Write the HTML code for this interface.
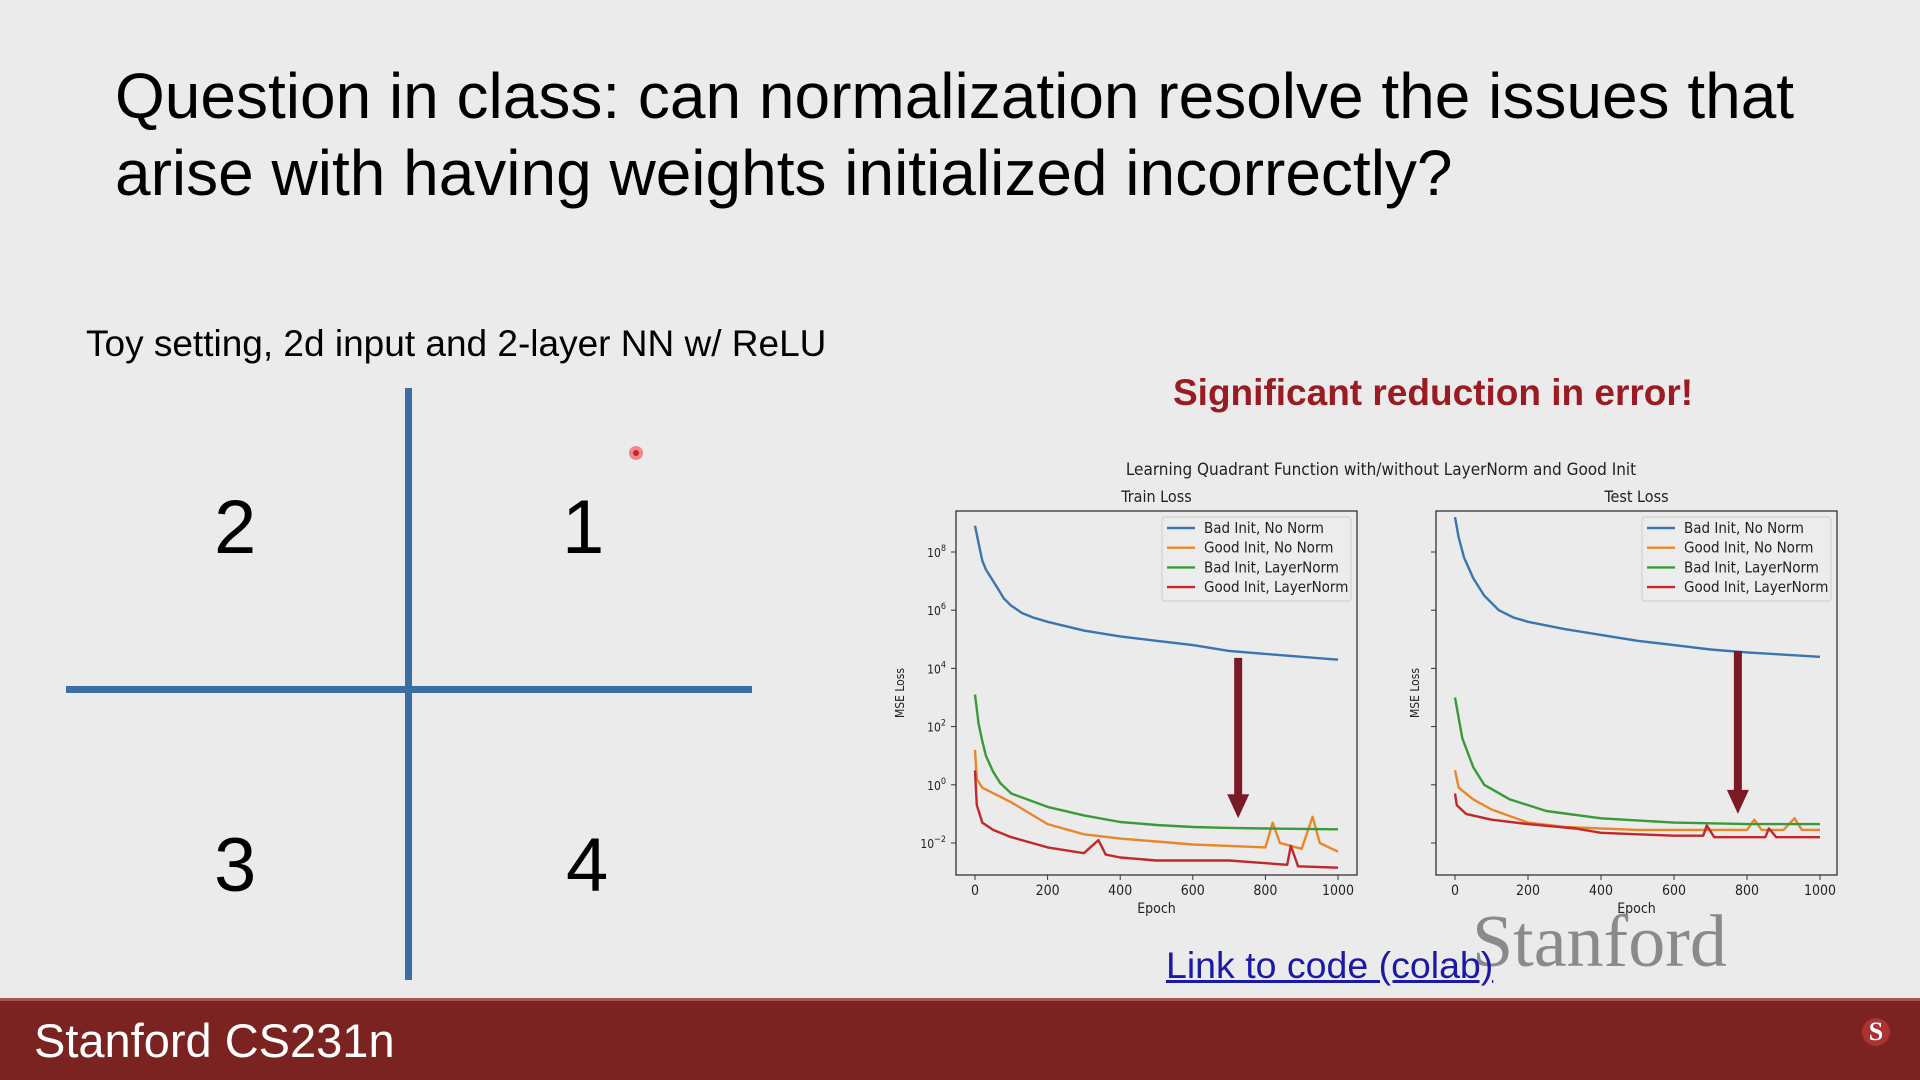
<!DOCTYPE html>
<html><head><meta charset="utf-8"><style>
html,body{margin:0;padding:0;}
body{width:1920px;height:1080px;background:#ebebeb;position:relative;overflow:hidden;font-family:"Liberation Sans",Arial,sans-serif;}
.abs{position:absolute;white-space:nowrap;}
</style></head><body>
<div class="abs" style="left:115px;top:58px;font-size:64px;line-height:77px;color:#000;">Question in class: can normalization resolve the issues that<br>arise with having weights initialized incorrectly?</div>
<div class="abs" style="left:86px;top:323px;font-size:37px;color:#000;">Toy setting, 2d input and 2-layer NN w/ ReLU</div>
<div class="abs" style="left:405px;top:388px;width:7px;height:592px;background:#3c6ea6;"></div>
<div class="abs" style="left:66px;top:686px;width:686px;height:7px;background:#3c6ea6;"></div>
<div class="abs" style="left:214px;top:484px;font-size:76px;color:#000;">2</div>
<div class="abs" style="left:562px;top:484px;font-size:76px;color:#000;">1</div>
<div class="abs" style="left:214px;top:822px;font-size:76px;color:#000;">3</div>
<div class="abs" style="left:566px;top:822px;font-size:76px;color:#000;">4</div>
<div class="abs" style="left:629px;top:446px;width:14px;height:14px;border-radius:50%;background:#e88;"><div style="margin:4px;width:6px;height:6px;border-radius:50%;background:#c22;"></div></div>
<div class="abs" style="left:1173px;top:372px;font-size:37px;font-weight:bold;color:#9b1b22;">Significant reduction in error!</div>
<svg id="chart" width="1920" height="1080" style="position:absolute;left:0;top:0;" xmlns="http://www.w3.org/2000/svg"></svg>
<div class="abs" style="left:1472px;top:900px;font-family:'Liberation Serif',serif;font-size:74px;color:#8a8a8a;">Stanford</div>
<div class="abs" style="left:1166px;top:944px;font-size:37.5px;color:#1a1aa6;text-decoration:underline;">Link to code (colab)</div>
<div class="abs" style="left:0;top:998px;width:1920px;height:82px;background:#7b2320;border-top:3px solid #a55;box-sizing:border-box;"></div>
<div class="abs" style="left:34px;top:1013px;font-size:47px;color:#fff;">Stanford CS231n</div>
<div class="abs" style="left:1862px;top:1018px;width:28px;height:28px;border-radius:50%;background:#a33;color:#fff;font-family:'Liberation Serif',serif;font-weight:bold;font-size:26px;text-align:center;line-height:28px;">S</div>
<script>
// ---- data (log10 MSE loss) ----
const trainBlueEp=[0,10,20,30,40,60,80,100,130,160,200,300,400,500,600,700,800,1000];
const trainBlueVal=[8.9,8.3,7.7,7.4,7.2,6.8,6.4,6.15,5.9,5.75,5.6,5.3,5.1,4.95,4.8,4.6,4.5,4.3];
const trainOrangeEp=[0,5,20,100,200,300,400,500,600,700,800,820,840,900,930,950,1000];
const trainOrangeVal=[1.2,0.2,-0.1,-0.6,-1.35,-1.7,-1.85,-1.95,-2.05,-2.1,-2.15,-1.3,-2.0,-2.2,-1.1,-2.0,-2.3];
const trainGreenEp=[0,10,20,30,50,70,100,200,300,400,500,600,700,800,1000];
const trainGreenVal=[3.1,2.1,1.5,1.0,0.45,0.05,-0.3,-0.76,-1.05,-1.28,-1.38,-1.45,-1.48,-1.5,-1.53];
const trainRedEp=[0,5,20,50,100,200,300,340,360,400,500,600,700,860,870,890,1000];
const trainRedVal=[0.5,-0.7,-1.3,-1.55,-1.8,-2.15,-2.35,-1.9,-2.4,-2.5,-2.6,-2.6,-2.6,-2.75,-2.1,-2.8,-2.85];
const testBlueEp=[0,10,25,50,80,120,160,200,300,400,500,600,700,800,1000];
const testBlueVal=[9.2,8.5,7.8,7.1,6.5,6.0,5.75,5.6,5.35,5.15,4.95,4.8,4.65,4.55,4.4];
const testOrangeEp=[0,10,50,100,200,300,500,700,800,820,840,900,930,950,1000];
const testOrangeVal=[0.5,-0.1,-0.5,-0.85,-1.3,-1.45,-1.55,-1.55,-1.55,-1.2,-1.55,-1.55,-1.15,-1.55,-1.55];
const testGreenEp=[0,20,50,80,150,250,400,600,800,1000];
const testGreenVal=[3.0,1.6,0.6,0.0,-0.5,-0.9,-1.15,-1.3,-1.35,-1.35];
const testRedEp=[0,5,30,100,200,330,400,500,600,680,690,710,800,850,860,880,1000];
const testRedVal=[-0.3,-0.7,-1.0,-1.2,-1.35,-1.5,-1.65,-1.7,-1.75,-1.75,-1.4,-1.8,-1.8,-1.8,-1.5,-1.8,-1.8];
const xTicks=[0,200,400,600,800,1000];
const yTicks=[-2,0,2,4,6,8];
const legendLabels=["Bad Init, No Norm","Good Init, No Norm","Bad Init, LayerNorm","Good Init, LayerNorm"];
const arrowTrain=[725,4.36,-1.15];
const arrowTest=[775,4.6,-1.0];

const NS="http://www.w3.org/2000/svg";
const svg=document.getElementById('chart');
function mk(tag,attrs,parent){const e=document.createElementNS(NS,tag);for(const k in attrs)e.setAttribute(k,attrs[k]);(parent||svg).appendChild(e);return e;}
const colors=["#3a75b0","#e8872a","#3a9a3a","#c0282a"];

function txt(x,y,s,size,anchor,parent){const t=mk('text',{x:x,y:y,'font-size':size,'text-anchor':anchor||'middle','font-family':'DejaVu Sans Condensed, DejaVu Sans, sans-serif',fill:'#222'},parent);t.textContent=s;return t;}

const title=txt(1381,475,"Learning Quadrant Function with/without LayerNorm and Good Init",17);



function panel(box,x0px,x1px,name,showYLabels,series,arrow){
  const g=mk('g',{});
  
  
  const xS=v=>x0px+(x1px-x0px)*v/1000;
  const yS=v=>552+(8-v)*29.1;
  const t=txt((box[0]+box[2])/2,502,name==='train'?'Train Loss':'Test Loss',16,'middle',g);
  
  
  const r=mk('rect',{x:box[0],y:box[1],width:box[2]-box[0],height:box[3]-box[1],fill:'#ebebeb',stroke:'#333','stroke-width':1.3},g);
  
  
  xTicks.forEach(v=>{
    mk('line',{x1:xS(v),x2:xS(v),y1:box[3],y2:box[3]+5,stroke:'#333'},g);
    const l=txt(xS(v),box[3]+20,String(v),14,'middle',g);
    
    
  });
  yTicks.forEach(v=>{
    mk('line',{x1:box[0]-5,x2:box[0],y1:yS(v),y2:yS(v),stroke:'#333'},g);
    if(showYLabels){
      const l=txt(box[0]-10,yS(v)+5,'10',12,'end',g);
      
      
      const s=mk('tspan',{dy:-6,'font-size':9},l);s.textContent=(v<0?'\u2212':'')+Math.abs(v);
    }
  });
  const xl=txt((box[0]+box[2])/2,box[3]+38,'Epoch',14,'middle',g);
  
  
  const yx=box[0]-(showYLabels?52:17);
  const yl=txt(yx,(box[1]+box[3])/2,'MSE Loss',12,'middle',g);
  yl.setAttribute('transform','rotate(-90 '+yx+' '+(box[1]+box[3])/2+')');
  
  
  series.forEach((s,i)=>{
    const d=s[0].map((e,j)=>(j?'L':'M')+xS(e).toFixed(1)+' '+yS(s[1][j]).toFixed(1)).join(' ');
    const p=mk('path',{d:d,fill:'none',stroke:colors[i],'stroke-width':2.4,'stroke-linejoin':'round'},g);
    
    
  });
  const ax=xS(arrow[0]),ay0=yS(arrow[1]),ay1=yS(arrow[2]);
  const ar=mk('path',{d:`M${ax-4} ${ay0} L${ax+4} ${ay0} L${ax+4} ${ay1-24} L${ax+11} ${ay1-24} L${ax} ${ay1} L${ax-11} ${ay1-24} L${ax-4} ${ay1-24} Z`,fill:'#7a1a26'},g);
  
  
  const lx=box[2]-195,ly=box[1]+6;
  const lg=mk('g',{},g);
  
  
  mk('rect',{x:lx,y:ly,width:189,height:84,rx:3,fill:'#ececec',stroke:'#ccc'},lg);
  legendLabels.forEach((lab,i)=>{
    const yy=ly+11+i*19.7;
    const e=mk('g',{},lg);
    
    
    mk('line',{x1:lx+5,x2:lx+33,y1:yy,y2:yy,stroke:colors[i],'stroke-width':2.4},e);
    txt(lx+42,yy+5,lab,15,'start',e);
  });
}
panel([956,511,1357,875],975,1338,'train',true,
 [[trainBlueEp,trainBlueVal],[trainOrangeEp,trainOrangeVal],[trainGreenEp,trainGreenVal],[trainRedEp,trainRedVal]],arrowTrain);
panel([1436,511,1837,875],1455,1820,'test',false,
 [[testBlueEp,testBlueVal],[testOrangeEp,testOrangeVal],[testGreenEp,testGreenVal],[testRedEp,testRedVal]],arrowTest);
</script>
</body></html>
